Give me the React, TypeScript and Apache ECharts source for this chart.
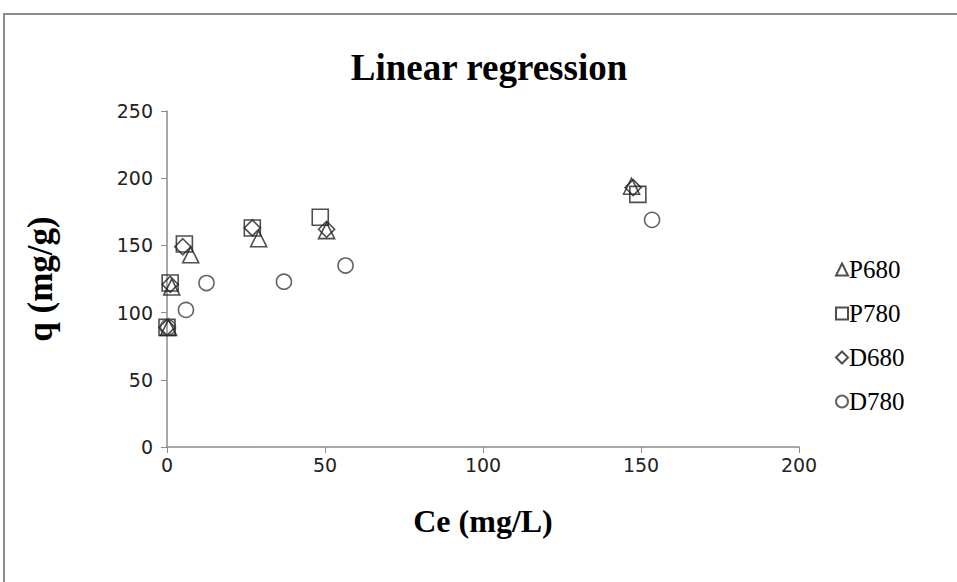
import React, { useEffect, useRef } from "react";
import * as echarts from "echarts";

const seriesNames = ["P680", "P780", "D680", "D780"];
const symbols = ["triangle", "rect", "diamond", "circle"];

const p680Ce = [0.5, 1.5, 7.5, 29, 50.5, 147];
const p680Q = [89, 119, 143, 155, 161, 194];
const p780Ce = [0, 1, 5.5, 27, 48.5, 149];
const p780Q = [89, 122, 151, 163, 171, 188];
const d680Ce = [0, 1, 5, 27, 50.5, 147.5];
const d680Q = [89, 121, 149, 163, 162, 193];
const d780Ce = [0.3, 6, 12.5, 37, 56.5, 153.5];
const d780Q = [89, 102, 122, 123, 135, 169];

const xTicks = [0, 50, 100, 150, 200];
const yTicks = [0, 50, 100, 150, 200, 250];

const allCe = [p680Ce, p780Ce, d680Ce, d780Ce];
const allQ = [p680Q, p780Q, d680Q, d780Q];
const sizes = [16, 16, 16, 15];

export default function App() {
  const ref = useRef<HTMLDivElement>(null);
  useEffect(() => {
    document.body.style.margin = "0";
    const chart = echarts.init(ref.current!, null, { renderer: "svg" });
    const stroke = "#222";
    chart.setOption({
      animation: false,
      backgroundColor: "#fff",
      title: {
        text: "Linear regression",
        left: 484,
        top: 44,
        textAlign: "center",
        textStyle: { fontFamily: "Liberation Serif", fontWeight: "bold", fontSize: 37, color: "#000" },
      },
      graphic: [
        {
          type: "rect",
          shape: { x: 4, y: 14, width: 1200, height: 1200 },
          style: { fill: "none", stroke: "#8c8c8c", lineWidth: 2 },
          silent: true,
        },
      ],
      legend: {
        orient: "vertical",
        left: 830,
        top: 252,
        itemWidth: 12,
        itemHeight: 12,
        itemGap: 19,
        textStyle: { fontFamily: "Liberation Serif", fontSize: 25, color: "#000", padding: [0, 0, 0, -4] },
        data: seriesNames.map((n, i) => ({ name: n, icon: symbols[i] })),
      },
      grid: { left: 167, right: 158, top: 111, bottom: 135 },
      xAxis: {
        type: "value",
        min: xTicks[0],
        max: xTicks[xTicks.length - 1],
        interval: 50,
        name: "Ce (mg/L)",
        nameLocation: "middle",
        nameGap: 58,
        nameTextStyle: { fontFamily: "Liberation Serif", fontWeight: "bold", fontSize: 32, color: "#000" },
        axisLine: { lineStyle: { color: "#8c8c8c", width: 1.5 } },
        axisTick: { show: true, length: 6, lineStyle: { color: "#8c8c8c" } },
        axisLabel: { fontFamily: "DejaVu Sans", fontSize: 19, color: "#222", margin: 8 },
        splitLine: { show: false },
      },
      yAxis: {
        type: "value",
        min: yTicks[0],
        max: yTicks[yTicks.length - 1],
        interval: 50,
        name: "q (mg/g)",
        nameLocation: "middle",
        nameGap: 109,
        nameRotate: 90,
        nameTextStyle: { fontFamily: "Liberation Serif", fontWeight: "bold", fontSize: 35, color: "#000" },
        axisLine: { show: true, lineStyle: { color: "#8c8c8c", width: 1.5 } },
        axisTick: { show: true, length: 6, lineStyle: { color: "#8c8c8c" } },
        axisLabel: { fontFamily: "DejaVu Sans", fontSize: 19, color: "#222", margin: 14 },
        splitLine: { show: false },
      },
      series: seriesNames.map((n, i) => ({
        name: n,
        type: "scatter",
        symbol: symbols[i],
        symbolSize: sizes[i],
        itemStyle: { color: "rgba(255,255,255,0)", borderColor: i === 3 ? "#3c3c3c" : stroke, borderWidth: 1.6 },
        data: allCe[i].map((c, j) => [c, allQ[i][j]]),
      })),
    });
    return () => chart.dispose();
  }, []);
  return <div ref={ref} style={{ position: "absolute", left: 0, top: 0, width: 957, height: 582 }} />;
}
